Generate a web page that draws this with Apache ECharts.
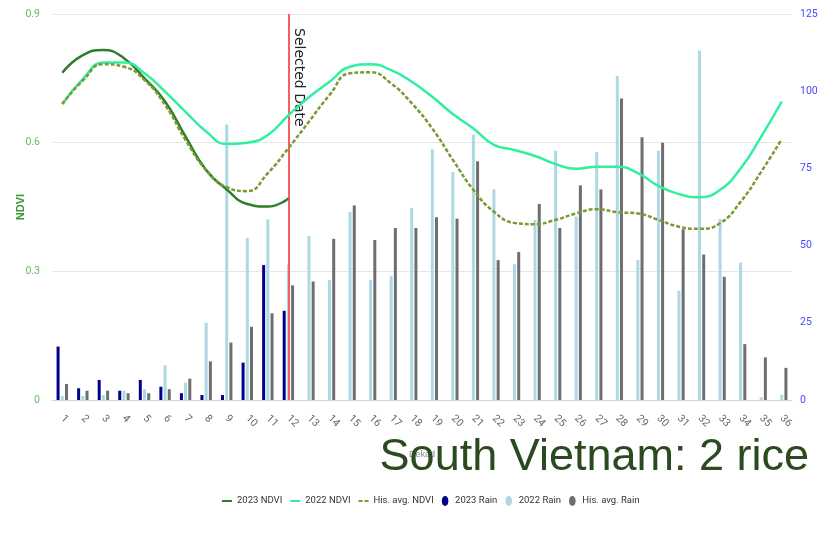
<!DOCTYPE html>
<html>
<head>
<meta charset="utf-8">
<script src="https://cdn.jsdelivr.net/npm/echarts@6/dist/echarts.min.js"></script>
<style>
html,body{margin:0;padding:0;background:#fff;}
#chart{width:820px;height:535px;}
</style>
</head>
<body>
<div id="chart"></div>
<script>
const categories = ['1','2','3','4','5','6','7','8','9','10','11','12','13','14','15','16','17','18','19','20','21','22','23','24','25','26','27','28','29','30','31','32','33','34','35','36'];
const ndvi2023 = [0.763,0.804,0.816,0.797,0.750,0.696,0.614,0.536,0.491,0.457,0.451,0.470];
const ndvi2022 = [0.690,0.748,0.787,0.787,0.762,0.719,0.672,0.626,0.597,0.600,0.618,0.664,0.706,0.742,0.777,0.783,0.769,0.742,0.707,0.667,0.633,0.595,0.583,0.569,0.550,0.539,0.544,0.544,0.529,0.499,0.480,0.473,0.490,0.540,0.614,0.696];
const ndviHisAvg = [0.690,0.745,0.783,0.777,0.746,0.688,0.606,0.536,0.496,0.487,0.529,0.587,0.649,0.711,0.762,0.764,0.738,0.692,0.633,0.560,0.490,0.439,0.413,0.410,0.420,0.435,0.445,0.438,0.435,0.420,0.404,0.399,0.412,0.462,0.532,0.608];
const rain2023 = [17.3,3.8,6.5,3.0,6.5,4.3,2.2,1.6,1.6,12.1,43.7,28.9];
const rain2022 = [1.3,1.3,1.6,3.0,3.5,11.2,5.6,25.0,89.2,52.5,58.5,44.0,53.1,38.9,60.9,38.9,40.2,62.2,81.2,73.8,85.9,68.2,44.0,58.3,80.7,59.4,80.3,104.9,45.3,80.7,35.4,113.1,58.7,44.5,0.9,1.7];
const rainHisAvg = [5.2,3.0,3.0,2.2,2.2,3.5,6.9,12.5,18.6,23.7,28.1,37.1,38.4,52.2,63.0,51.8,55.7,55.7,59.2,58.7,77.3,45.3,47.9,63.5,55.7,69.5,68.2,97.6,85.1,83.3,55.3,47.1,39.9,18.1,13.8,10.4];
const ndviTicks = [0, 0.3, 0.6, 0.9];
const rainTicks = [0, 25, 50, 75, 100, 125];
const selectedDekad = '12';

const narrow = "Roboto, 'Liberation Sans', sans-serif";
const chart = echarts.init(document.getElementById('chart'), null, {renderer: 'canvas'});
const option = {
  animation: false,
  backgroundColor: '#fff',
  title: {
    text: 'South Vietnam: 2 rice',
    right: 6, bottom: 50,
    textStyle: {fontFamily: 'Liberation Sans', fontSize: 45, fontWeight: 'normal', color: '#2b4a20'},
    z: 20
  },
  legend: {
    bottom: 24, left: 217,
    itemWidth: 10, itemHeight: 10, itemGap: 8,
    textStyle: {fontFamily: narrow, fontSize: 9.5, color: '#333'},
    data: [
      {name: '2023 NDVI', icon: 'path://M0,0h10v2h-10z', itemStyle: {color: '#2e7d2a'}},
      {name: '2022 NDVI', icon: 'path://M0,0h10v2h-10z', itemStyle: {color: '#30f0a0'}},
      {name: 'His. avg. NDVI', icon: 'path://M0,0h4v2h-4z M6,0h4v2h-4z', itemStyle: {color: '#7a9a35'}},
      {name: '2023 Rain', icon: 'path://M5,0A4,6,0,1,1,5,12A4,6,0,1,1,5,0z', itemStyle: {color: '#00008b'}},
      {name: '2022 Rain', icon: 'path://M5,0A4,6,0,1,1,5,12A4,6,0,1,1,5,0z', itemStyle: {color: '#add8e6'}},
      {name: 'His. avg. Rain', icon: 'path://M5,0A4,6,0,1,1,5,12A4,6,0,1,1,5,0z', itemStyle: {color: '#6e6e6e'}}
    ]
  },
  grid: {left: 52, right: 28, top: 14, bottom: 135, outerBoundsMode: 'none', containLabel: false},
  xAxis: {
    type: 'category', data: categories,
    name: 'Dekad', nameLocation: 'middle', nameGap: 50,
    nameTextStyle: {fontSize: 9, color: '#888'},
    axisLine: {lineStyle: {color: '#ccd6eb'}},
    axisTick: {length: 12, lineStyle: {color: '#ccd6eb'}},
    axisLabel: {rotate: -45, color: '#666', fontSize: 10.5, margin: 17, fontFamily: narrow}
  },
  yAxis: [
    {
      type: 'value', min: ndviTicks[0], max: ndviTicks[ndviTicks.length-1], interval: 0.3,
      name: 'NDVI', nameLocation: 'middle', nameGap: 26, nameRotate: 90, nameMoveOverlap: false,
      nameTextStyle: {color: '#3a9a3a', fontSize: 11, fontWeight: 'bold'},
      axisLine: {show: false}, axisTick: {show: false},
      axisLabel: {color: '#66bb66', fontSize: 10.5, margin: 12, fontFamily: narrow},
      splitLine: {lineStyle: {color: '#e6e6e6'}}
    },
    {
      type: 'value', min: rainTicks[0], max: rainTicks[rainTicks.length-1], interval: 25,
      position: 'right',
      axisLine: {show: false}, axisTick: {show: false},
      axisLabel: {color: '#4a4aff', fontSize: 10.5, margin: 8, fontFamily: narrow},
      splitLine: {show: false}
    }
  ],
  series: [
    {name: '2023 Rain', type: 'bar', yAxisIndex: 1, data: rain2023, barWidth: 3, barGap: '40%', itemStyle: {color: '#00008b'}},
    {name: '2022 Rain', type: 'bar', yAxisIndex: 1, data: rain2022, barWidth: 3, barGap: '40%', itemStyle: {color: '#add8e6'}},
    {name: 'His. avg. Rain', type: 'bar', yAxisIndex: 1, data: rainHisAvg, barWidth: 3, barGap: '40%', itemStyle: {color: '#6e6e6e'}},
    {name: '2023 NDVI', type: 'line', yAxisIndex: 0, data: ndvi2023, smooth: true, showSymbol: false, z: 5,
      lineStyle: {color: '#2e7d2a', width: 2.5}, itemStyle: {color: '#2e7d2a'}},
    {name: '2022 NDVI', type: 'line', yAxisIndex: 0, data: ndvi2022, smooth: true, showSymbol: false, z: 5,
      lineStyle: {color: '#30f0a0', width: 2.5}, itemStyle: {color: '#30f0a0'},
      markLine: {
        silent: true, symbol: ['none', 'none'],
        lineStyle: {color: '#f26060', width: 2, type: 'solid'},
        label: {show: true, formatter: 'Selected Date', position: 'insideStartTop', color: '#222', fontSize: 14, fontFamily: 'DejaVu Sans', distance: [14, 3]},
        data: [[{coord: [selectedDekad, ndviTicks[ndviTicks.length-1]]}, {coord: [selectedDekad, 0]}]]
      }},
    {name: 'His. avg. NDVI', type: 'line', yAxisIndex: 0, data: ndviHisAvg, smooth: true, showSymbol: false, z: 5,
      lineStyle: {color: '#7a9a35', width: 2.5, type: [4, 2]}, itemStyle: {color: '#7a9a35'}}
  ]
};
chart.setOption(option);
</script>
</body>
</html>
